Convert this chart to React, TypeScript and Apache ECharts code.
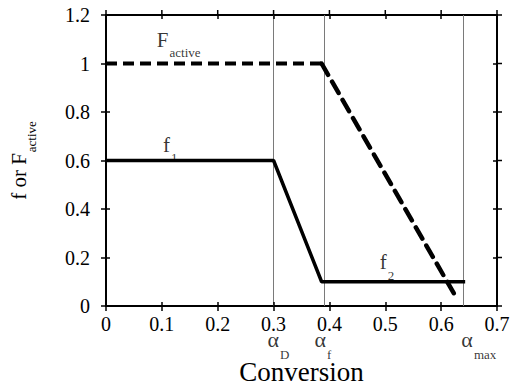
import React, { useEffect, useRef } from "react";
import * as echarts from "echarts";

// Piecewise curves over conversion
const fConversion = [0, 0.3, 0.386, 0.643];
const fValues = [0.6, 0.6, 0.1, 0.1];
const activeFlatConversion = [0, 0.386];
const activeFlatValues = [1, 1];
const activeDropConversion = [0.386, 0.627];
const activeDropValues = [1, 0.035];

// Axis ticks
const xTicks = [0, 0.1, 0.2, 0.3, 0.4, 0.5, 0.6, 0.7];
const yTicks = [0, 0.2, 0.4, 0.6, 0.8, 1, 1.2];

// Characteristic conversions (vertical guides) and their subscripts
const markerConversions = [0.3, 0.386, 0.638];
const markerSubscripts = ["D", "f", "max"];
const markerLabelShift = [-6, -7, -1];
const markerLabelLevel = -0.14;

// Curve names drawn next to the curves
const curveNames = ["F", "f", "f"];
const curveSubscripts = ["active", "1", "2"];
const curveLabelX = [0.091, 0.102, 0.49];
const curveLabelY = [1.097, 0.664, 0.181];

const FONT = "Liberation Serif";
const X_MIN = xTicks[0];
const X_MAX = xTicks[xTicks.length - 1];
const Y_MIN = yTicks[0];
const Y_MAX = yTicks[yTicks.length - 1];

// inward tick length, in axis units (about 4px on this grid)
const TICK_DX = 0.0072;
const TICK_DY = 0.0165;

const subRich = (main: number, sub: number, pad: number) => ({
  m: { fontSize: main, fontFamily: FONT, color: "#000" },
  s: { fontSize: sub, fontFamily: FONT, color: "#000", padding: [pad, 0, 0, 1] },
});

const seg = (a: number[], b: number[]) => [{ coord: a }, { coord: b }];

export default function App() {
  const ref = useRef<HTMLDivElement>(null);

  useEffect(() => {
    if (!ref.current) return;
    const chart = echarts.init(ref.current, null, { renderer: "svg" });

    // inward halves of the ticks on all four sides of the frame
    const innerTicks = [
      ...xTicks.map((v) => seg([v, Y_MIN], [v, Y_MIN + TICK_DY])),
      ...xTicks.map((v) => seg([v, Y_MAX], [v, Y_MAX - TICK_DY])),
      ...yTicks.map((v) => seg([X_MIN, v], [X_MIN + TICK_DX, v])),
      ...yTicks.map((v) => seg([X_MAX, v], [X_MAX - TICK_DX, v])),
    ];

    const option: any = {
      animation: false,
      backgroundColor: "#fff",
      grid: {
        left: 106,
        right: 17,
        top: 15,
        bottom: 84,
        show: true,
        borderColor: "#000",
        borderWidth: 2,
        outerBoundsMode: "none",
      },
      xAxis: {
        type: "value",
        min: X_MIN,
        max: X_MAX,
        interval: 0.1,
        splitLine: { show: false },
        axisLine: { show: true, onZero: false, lineStyle: { color: "#000", width: 2 } },
        axisTick: { show: true, length: 5, lineStyle: { color: "#000", width: 1.5 } },
        axisLabel: { color: "#000", fontSize: 20, fontFamily: FONT, margin: 8 },
        name: "{t|Conversion}",
        nameLocation: "middle",
        nameGap: 53,
        nameTextStyle: { rich: { t: { fontFamily: FONT, fontSize: 27, color: "#000", lineHeight: 26 } } },
      },
      yAxis: {
        type: "value",
        min: Y_MIN,
        max: Y_MAX,
        interval: 0.2,
        splitLine: { show: false },
        axisLine: { show: true, onZero: false, lineStyle: { color: "#000", width: 2 } },
        axisTick: { show: true, length: 5, lineStyle: { color: "#000", width: 1.5 } },
        axisLabel: { color: "#000", fontSize: 20, fontFamily: FONT, margin: 16 },
        name: "{m|f or F}{s|active}",
        nameLocation: "middle",
        nameGap: 68,
        nameTextStyle: { rich: subRich(21, 13, 26) },
      },
      series: [
        {
          type: "line",
          data: fConversion.map((x, i) => [x, fValues[i]]),
          symbol: "none",
          lineStyle: { color: "#000", width: 3.5 },
          z: 3,
          markLine: {
            silent: true,
            symbol: ["none", "none"],
            label: { show: false },
            lineStyle: { color: "#7a7a7a", width: 1, type: "solid" },
            data: markerConversions.map((x) => ({ xAxis: x })),
            z: 1,
          },
        },
        {
          type: "line",
          data: activeFlatConversion.map((x, i) => [x, activeFlatValues[i]]),
          symbol: "none",
          lineStyle: { color: "#000", width: 4, type: [11, 6] },
          z: 3,
          markLine: {
            silent: true,
            symbol: ["none", "none"],
            label: { show: false },
            lineStyle: { color: "#000", width: 1.5, type: "solid" },
            data: innerTicks,
            z: 4,
          },
        },
        {
          type: "line",
          data: activeDropConversion.map((x, i) => [x, activeDropValues[i]]),
          symbol: "none",
          lineStyle: { color: "#000", width: 4.5, type: [13, 8], cap: "round" },
          z: 3,
        },
        {
          type: "scatter",
          symbolSize: 0,
          clip: false,
          silent: true,
          data: curveNames.map((n, i) => ({
            value: [curveLabelX[i], curveLabelY[i]],
            main: n,
            sub: curveSubscripts[i],
          })),
          label: {
            show: true,
            position: "right",
            distance: 0,
            formatter: (p: any) => `{m|${p.data.main}}{s|${p.data.sub}}`,
            rich: subRich(21, 13, 26),
          },
        },
        {
          type: "scatter",
          symbolSize: 0,
          clip: false,
          silent: true,
          data: markerConversions.map((x, i) => ({
            value: [x, markerLabelLevel],
            sub: markerSubscripts[i],
            label: { offset: [markerLabelShift[i], 0] },
          })),
          label: {
            show: true,
            position: "right",
            distance: 0,
            formatter: (p: any) => `{m|\u03b1}{s|${p.data.sub}}`,
            rich: subRich(22, 13, 30),
          },
        },
      ],
    };

    chart.setOption(option);

    // outward halves of the top and right ticks, placed through the grid's scales
    const px = (pt: number[]) => chart.convertToPixel({ xAxisIndex: 0, yAxisIndex: 0 }, pt) as number[];
    const elements: any[] = [];
    xTicks.forEach((v) => {
      const t = px([v, Y_MAX]);
      if (t && isFinite(t[0])) {
        elements.push({ type: "line", silent: true, z: 10, shape: { x1: t[0], y1: t[1] - 5, x2: t[0], y2: t[1] }, style: { stroke: "#000", lineWidth: 1.5 } });
      }
    });
    yTicks.forEach((v) => {
      const r = px([X_MAX, v]);
      if (r && isFinite(r[0])) {
        elements.push({ type: "line", silent: true, z: 10, shape: { x1: r[0], y1: r[1], x2: r[0] + 5, y2: r[1] }, style: { stroke: "#000", lineWidth: 1.5 } });
      }
    });
    chart.setOption({ graphic: elements });

    return () => chart.dispose();
  }, []);

  return (
    <div
      ref={ref}
      style={{ position: "fixed", left: 0, top: 0, width: 514, height: 390, background: "#fff" }}
    />
  );
}
